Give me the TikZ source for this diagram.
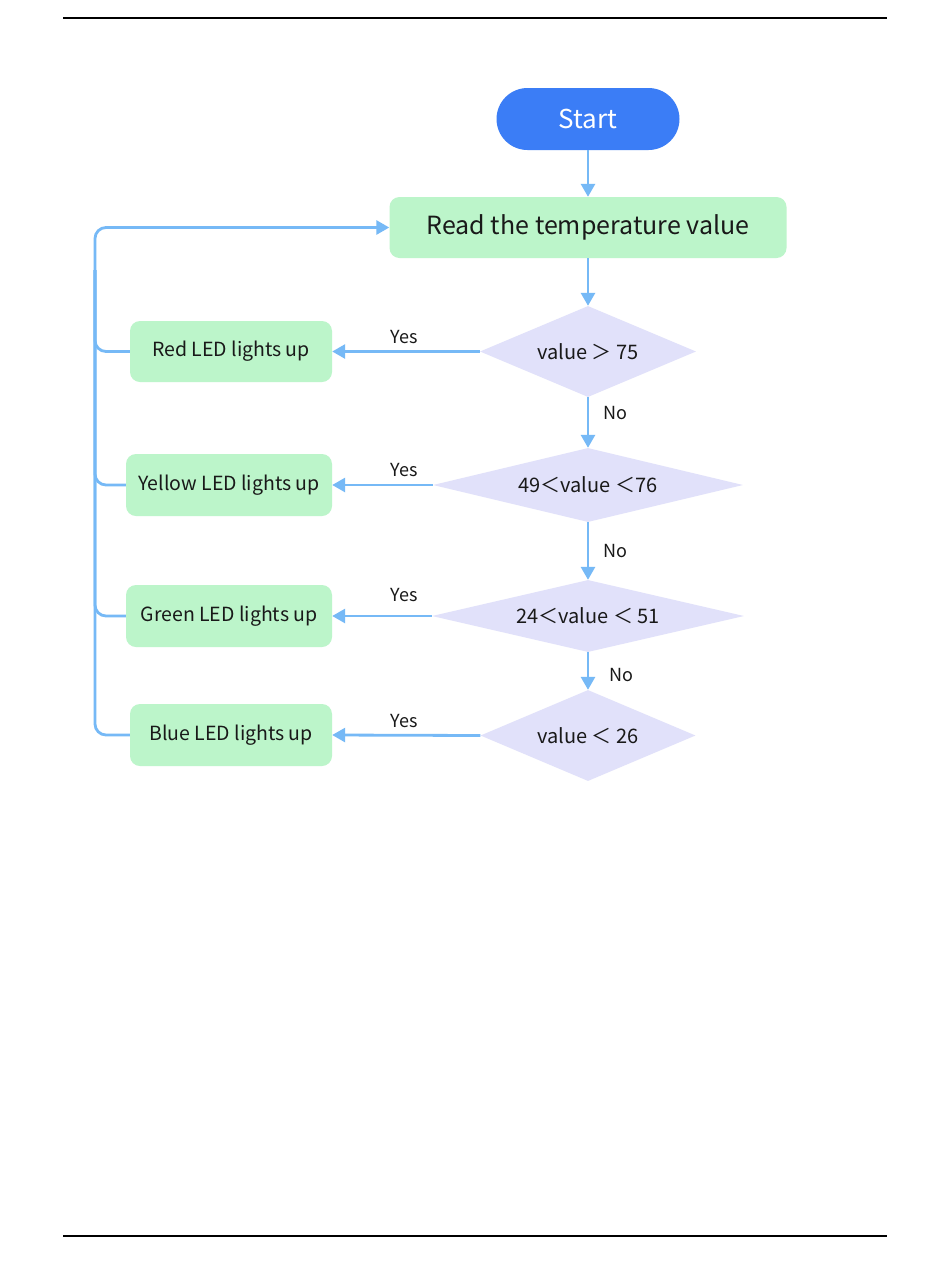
\documentclass[tikz,border=0pt]{standalone}
\usepackage{fontspec}
\setmainfont{Noto Sans CJK SC}
\usetikzlibrary{shapes.geometric,arrows.meta}
\definecolor{startblue}{RGB}{59,125,246}
\definecolor{boxgreen}{RGB}{188,245,202}
\definecolor{diamfill}{RGB}{225,225,250}
\definecolor{linec}{RGB}{118,185,246}
\definecolor{textc}{RGB}{25,25,25}
\tikzset{
  proc/.style={fill=boxgreen, rounded corners=10pt, inner sep=0pt, minimum height=61pt, text=textc, font=\fontsize{19.5}{21}\selectfont},
  startbox/.style={fill=startblue, rounded corners=31pt, inner sep=0pt, minimum width=183pt, minimum height=62pt, text=white, font=\fontsize{26}{28}\selectfont},
  dec/.style={diamond, fill=diamfill, inner sep=0pt, text=textc, font=\fontsize{20}{22}\selectfont},
  flow/.style={draw=linec, line width=2.8pt, -{Triangle[length=13pt,width=14pt]}},
  link/.style={draw=linec, line width=2.8pt},
  lab/.style={text=textc, font=\fontsize{18}{20}\selectfont, inner sep=0pt},
  rule/.style={draw=black, line width=1.2pt}
}
\begin{document}
\begin{tikzpicture}[x=1pt,y=-1pt]
\useasboundingbox[fill=white] (0,0) rectangle (950,1267);
\coordinate (r1a) at (63,18); \coordinate (r1b) at (887,18);
\coordinate (r2a) at (63,1236); \coordinate (r2b) at (887,1236);
\draw[rule] (r1a) -- (r1b);
\draw[rule] (r2a) -- (r2b);

\node[startbox] (start) at (588,119) {Start};
\node[proc, minimum width=397pt, font=\fontsize{25}{27}\selectfont] (read) at (588,227.5) {Read the temperature value};

\node[dec, aspect=2.37, minimum width=216pt, minimum height=91pt] (d1) at (588,351.5) {value ＞ 75};
\node[dec, aspect=4.19, minimum width=310pt, minimum height=74pt] (d2) at (588,485) {49＜value ＜76};
\node[dec, aspect=4.33, minimum width=312pt, minimum height=72pt] (d3) at (588,616) {24＜value ＜ 51};
\node[dec, aspect=2.36, minimum width=215pt, minimum height=91pt] (d4) at (588,735.5) {value ＜ 26};

\node[proc, minimum width=202pt] (red) at (231,351.5) {Red LED lights up};
\node[proc, minimum width=206pt, minimum height=62pt] (yellow) at (229,485) {Yellow LED lights up};
\node[proc, minimum width=206pt, minimum height=62pt] (green) at (229,616) {Green LED lights up};
\node[proc, minimum width=202pt, minimum height=62pt] (blue) at (231,735) {Blue LED lights up};

\draw[flow] (start) -- (read);
\draw[flow] (read) -- (d1);
\draw[flow] (d1) -- (d2);
\draw[flow] (d2) -- (d3);
\draw[flow] (d3) -- (d4);

\draw[flow] (d1.west) -- (red.east);
\draw[flow] (d2.west) -- (yellow.east);
\draw[flow] (d3.west) -- (green.east);
\draw[flow] (d4.west) -- (blue.east);

\node[lab] (y1) at (404,337) {Yes};
\node[lab] (y2) at (404,470) {Yes};
\node[lab] (y3) at (404,595) {Yes};
\node[lab] (y4) at (404,721) {Yes};
\node[lab] (n1) at (615,413) {No};
\node[lab] (n2) at (615,551) {No};
\node[lab] (n3) at (621,675) {No};

\coordinate (lt) at (95,227.5);
\coordinate (lj) at (95,270);
\draw[flow, rounded corners=11pt] (blue.west) -| (lt) -- (read.west);
\draw[link, rounded corners=11pt] (red.west) -| (lj);
\draw[link, rounded corners=11pt] (yellow.west) -| (lj);
\draw[link, rounded corners=11pt] (green.west) -| (lj);
\end{tikzpicture}
\end{document}
